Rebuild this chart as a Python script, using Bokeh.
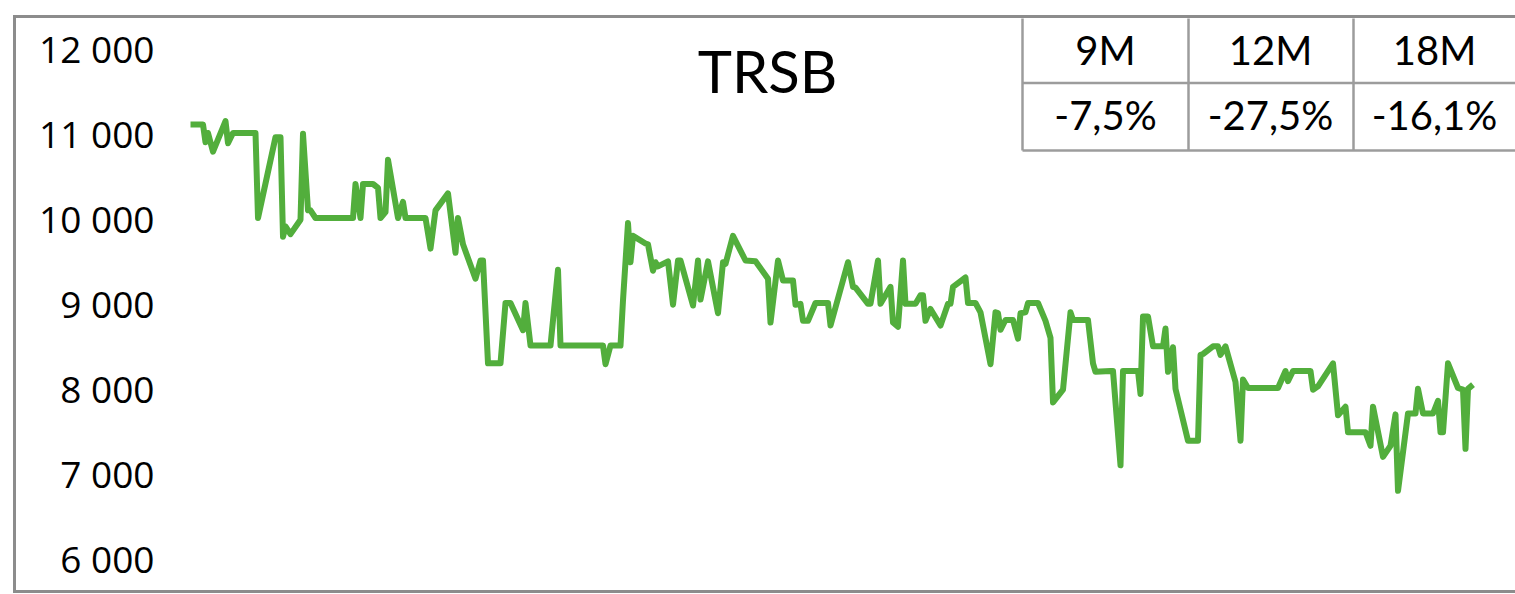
from bokeh.plotting import figure
from bokeh.models import FixedTicker, Range1d
from bokeh.core.properties import value
from bokeh.embed import file_html
from bokeh.resources import INLINE

# ---- data ----
days = [
    0, 5, 6, 7, 9, 14, 15, 17, 26, 27,
    34, 36, 37, 38, 40, 44, 45, 47, 48, 50,
    65, 66, 68, 69, 73, 75, 76, 78, 79, 83,
    85, 86, 94, 96, 98, 103, 106, 107, 109, 114,
    116, 117, 119, 124, 126, 128, 133, 134, 136, 144,
    147, 148, 165, 166, 168, 172, 173, 175, 176, 177,
    182, 183, 185, 186, 187, 191, 193, 195, 196, 201,
    203, 204, 207, 211, 213, 214, 217, 222, 226, 231,
    232, 235, 237, 241, 242, 244, 245, 247, 250, 255,
    256, 263, 265, 266, 271, 272, 275, 276, 280, 281,
    283, 285, 286, 290, 292, 293, 294, 296, 300, 303,
    304, 305, 310, 311, 314, 316, 320, 322, 323, 324,
    326, 329, 331, 332, 334, 335, 339, 342, 344, 345,
    349, 352, 353, 359, 361, 362, 368, 369, 372, 373,
    379, 380, 381, 383, 385, 389, 390, 391, 393, 394,
    399, 403, 404, 405, 409, 411, 412, 414, 418, 420,
    421, 423, 435, 438, 439, 441, 448, 449, 451, 457,
    459, 462, 463, 470, 472, 473, 477, 480, 482, 483,
    487, 490, 491, 493, 497, 499, 500, 501, 503, 507,
    509, 510, 511, 513,
]
prices = [
    11100, 11100, 10890, 11000, 10780, 11140, 10880, 11000, 11000, 10000,
    10950, 10950, 9780, 9900, 9810, 9980, 10990, 10090, 10090, 10000,
    10000, 10400, 10000, 10400, 10400, 10355, 10000, 10070, 10685, 10000,
    10190, 10000, 10000, 9640, 10090, 10290, 9590, 10000, 9690, 9285,
    9500, 9500, 8290, 8290, 9000, 9000, 8680, 9000, 8500, 8500,
    9390, 8500, 8500, 8280, 8500, 8500, 9030, 9940, 9480, 9790,
    9700, 9690, 9380, 9480, 9430, 9490, 8980, 9500, 9500, 8970,
    9500, 9040, 9490, 8880, 9480, 9460, 9790, 9500, 9490, 9285,
    8770, 9500, 9265, 9265, 8980, 8990, 8790, 8790, 9000, 9000,
    8735, 9480, 9190, 9180, 8990, 8990, 9500, 8990, 9190, 8770,
    8720, 9500, 8990, 8990, 9090, 9090, 8790, 8930, 8735, 8990,
    8990, 9190, 9300, 9000, 9000, 8890, 8280, 8890, 8880, 8685,
    8800, 8800, 8580, 8880, 8890, 9000, 9000, 8790, 8590, 7830,
    7980, 8890, 8800, 8800, 8290, 8190, 8200, 8200, 7090, 8200,
    8200, 7930, 8840, 8840, 8490, 8490, 8700, 8190, 8480, 7990,
    7380, 7380, 8390, 8400, 8490, 8490, 8390, 8490, 8070, 7380,
    8100, 8000, 8000, 8200, 8080, 8200, 8200, 7980, 8020, 8290,
    7680, 7780, 7480, 7480, 7320, 7780, 7190, 7320, 7690, 6790,
    7700, 7700, 7990, 7700, 7700, 7850, 7480, 7480, 8290, 8000,
    7980, 7285, 7990, 8040,
]
assert len(days) == len(prices)

y_ticks = [6000, 7000, 8000, 9000, 10000, 11000, 12000]
y_tick_labels = ["6 000", "7 000", "8 000", "9 000", "10 000", "11 000", "12 000"]

title_text = "TRSB"
periods = ["9M", "12M", "18M"]
changes = ["-7,5%", "-27,5%", "-16,1%"]

# ---- layout helpers (page pixel -> data) ----
X0_PX, PX_PER_DAY = 190.0, 2.5
Y0_PX, PX_PER_UNIT = 47.5, 0.085


def dx(px):
    return (px - X0_PX) / PX_PER_DAY


def dy(py):
    return 12000 - (py - Y0_PX) / PX_PER_UNIT


p = figure(width=1515, height=594, output_backend="svg", toolbar_location=None,
           x_range=Range1d(dx(170), dx(1515)), y_range=Range1d(dy(588), dy(18)),
           x_axis_location=None,
           min_border_left=170, min_border_right=0, min_border_top=18, min_border_bottom=6)
p.outline_line_color = None
p.grid.visible = False
p.background_fill_color = None
p.border_fill_color = None

# outer grey frame (left, top and bottom edges; the right edge lies off-page)
g = "linear-gradient(#8c8c8c, #8c8c8c)"
p.styles = {
    "background-color": "white",
    "background-image": f"{g}, {g}, {g}",
    "background-size": "3px 578px, 1510px 3px, 1510px 3px",
    "background-position": "13px 15px, 13px 15px, 13px 590px",
    "background-repeat": "no-repeat",
}

ax = p.yaxis[0]
ax.ticker = FixedTicker(ticks=y_ticks)
ax.major_label_overrides = {t: l for t, l in zip(y_ticks, y_tick_labels)}
ax.axis_line_color = None
ax.major_tick_line_color = None
ax.minor_tick_line_color = None
ax.major_tick_out = 0
ax.major_tick_in = 0
ax.minor_tick_out = 0
ax.major_label_standoff = 16
ax.major_label_text_font = "Open Sans"
ax.major_label_text_font_size = "37px"
ax.major_label_text_color = "black"

# price line
p.line(days, prices, line_color="#52ae3c", line_width=6, line_join="round")

# title inside the chart
p.text(x=[dx(767)], y=[dy(70)], text=[title_text], text_font=value("Lato"),
       text_font_size="58px", text_align="center", text_baseline="alphabetic",
       text_color="black")

# performance table
tbl_color = "#9c9c9c"
col_edges = [1022, 1188, 1353, 1530]
row_edges = [17, 82.5, 150]
p.segment(x0=[dx(c) for c in col_edges[:3]], y0=[dy(row_edges[0])] * 3,
          x1=[dx(c) for c in col_edges[:3]], y1=[dy(row_edges[2])] * 3,
          line_color=tbl_color, line_width=2.5)
p.segment(x0=[dx(col_edges[0])] * 2, y0=[dy(r) for r in row_edges[1:]],
          x1=[dx(col_edges[3])] * 2, y1=[dy(r) for r in row_edges[1:]],
          line_color=tbl_color, line_width=2.5)
centers = [1105, 1270, 1434]
p.text(x=[dx(c) for c in centers], y=[dy(49.5)] * 3, text=periods,
       text_font=value("Lato"), text_font_size="40px", text_align="center",
       text_baseline="alphabetic", text_color="black")
p.text(x=[dx(c) for c in centers], y=[dy(114.5)] * 3, text=changes,
       text_font=value("Lato"), text_font_size="40px", text_align="center",
       text_baseline="alphabetic", text_color="black")

open("out.html", "w").write(file_html(p, INLINE))
